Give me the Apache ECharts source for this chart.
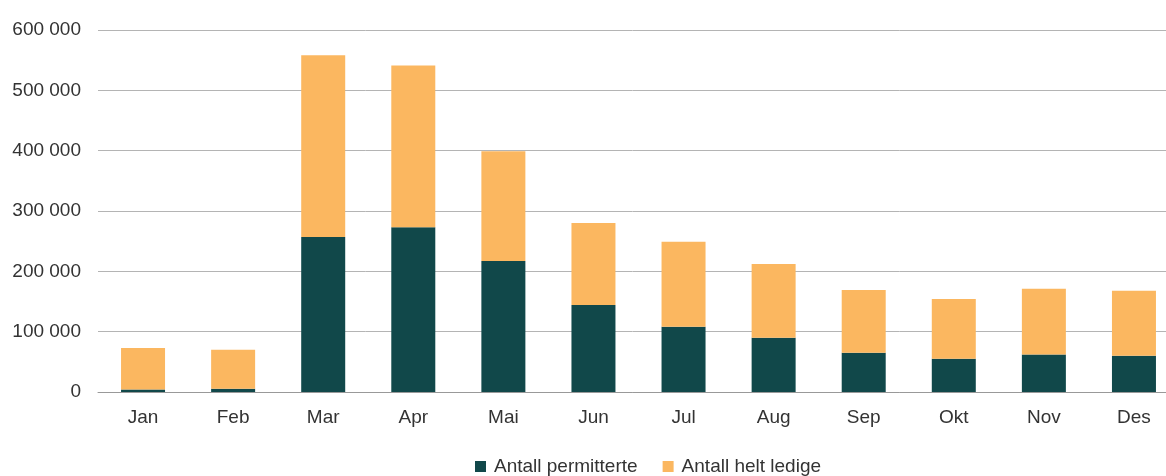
<!DOCTYPE html>
<html>
<head>
<meta charset="utf-8">
<script src="https://cdn.jsdelivr.net/npm/echarts@6/dist/echarts.min.js"></script>
<style>html,body{margin:0;padding:0;background:#fff}#c{width:1166px;height:476px}</style>
</head>
<body>
<div id="c"></div>
<script>
const categories = ['Jan','Feb','Mar','Apr','Mai','Jun','Jul','Aug','Sep','Okt','Nov','Des'];
const permitterte = [4000, 5500, 257000, 273000, 217000, 144000, 108000, 90000, 65000, 55000, 62000, 60000];
const heltLedige = [69000, 64500, 301000, 268000, 182000, 136000, 141000, 122000, 104000, 99000, 109000, 108000];
const yTicks = [0, 100000, 200000, 300000, 400000, 500000, 600000];

const font = '"Liberation Sans", Arial, Helvetica, sans-serif';
const chart = echarts.init(document.getElementById('c'));
chart.setOption({
  animation: false,
  grid: { left: 98, top: 30, right: -13, bottom: 84, containLabel: false, outerBoundsMode: 'none' },
  legend: {
    left: 470, top: 452,
    itemWidth: 11, itemHeight: 11, itemGap: 25,
    icon: 'rect',
    textStyle: { fontFamily: font, fontSize: 19, color: '#333', padding: [0,0,0,3] },
    data: ['Antall permitterte', 'Antall helt ledige']
  },
  xAxis: {
    type: 'category', data: categories,
    axisTick: { show: false },
    axisLine: { lineStyle: { color: '#999', width: 1 } },
    axisLabel: { fontFamily: font, fontSize: 19, color: '#333', margin: 16 }
  },
  yAxis: {
    type: 'value', min: yTicks[0], max: yTicks[yTicks.length-1], interval: 100000,
    axisLine: { show: false }, axisTick: { show: false },
    splitLine: { lineStyle: { color: '#b4b4b4', width: 1 } },
    axisLabel: {
      fontFamily: font, fontSize: 19, color: '#333', margin: 17,
      formatter: v => String(v).replace(/\B(?=(\d{3})+(?!\d))/g, ' ')
    }
  },
  series: [
    { name: 'Antall permitterte', type: 'bar', stack: 't', data: permitterte, barWidth: 44, itemStyle: { color: '#11484a' } },
    { name: 'Antall helt ledige', type: 'bar', stack: 't', data: heltLedige, barWidth: 44, itemStyle: { color: '#fbb760' } }
  ]
});
</script>
</body>
</html>
